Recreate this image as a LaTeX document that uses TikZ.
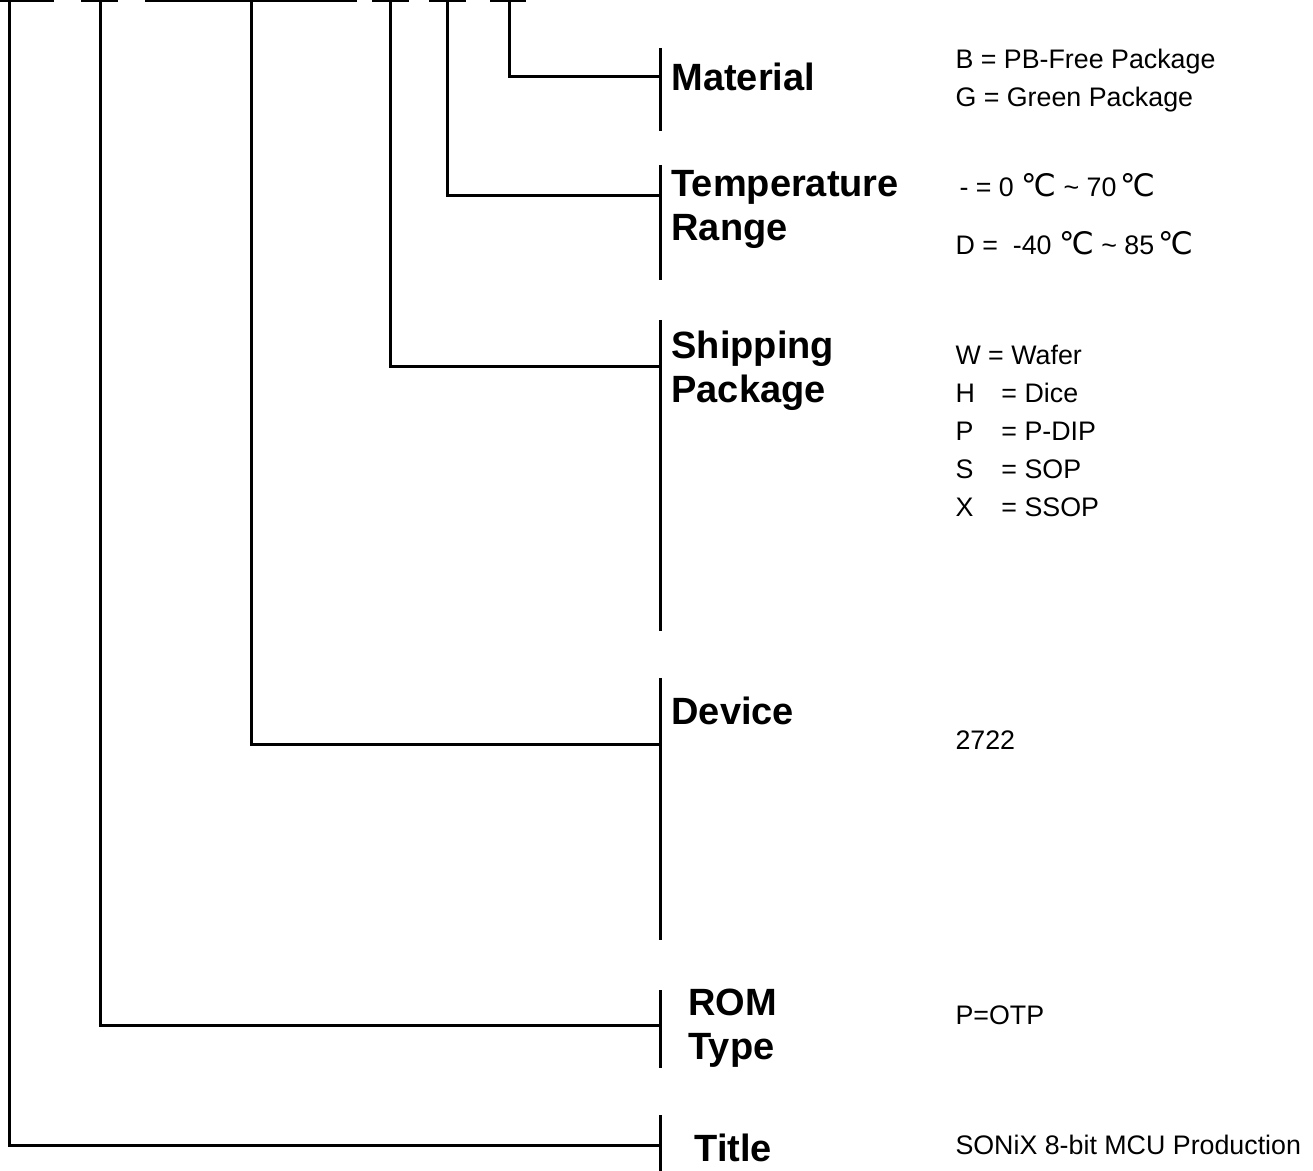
\documentclass[tikz,border=0pt]{standalone}
\usepackage{fontspec}
\setmainfont{Liberation Sans}
\newfontfamily\degfont{DejaVu Sans}
\usetikzlibrary{positioning}
\newcommand{\degC}{{\degfont\fontsize{15.5}{15.5}\selectfont\char"2103}}
\newcommand{\tld}{\textasciitilde}

\begin{document}
\begin{tikzpicture}[x=0.5pt, y=-0.5pt, line width=1.5pt,
  field/.style={font=\bfseries\fontsize{19}{22}\selectfont, anchor=west, inner sep=0pt, align=left},
  code/.style={font=\fontsize{13.4}{15}\selectfont, anchor=west, inner sep=0pt}]
  \useasboundingbox (0,0) rectangle (1313,1171);
  % Part number fields along the top
  \draw (0,1) -- (54,1);
  \draw (81,1) -- (118,1);
  \draw (145,1) -- (357,1);
  \draw (372,1) -- (409,1);
  \draw (429,1) -- (466,1);
  \draw (490,1) -- (526,1);
  \coordinate (tTitle) at (9,1);
  \coordinate (tRom) at (100,1);
  \coordinate (tDev) at (251,1);
  \coordinate (tShip) at (390,1);
  \coordinate (tTemp) at (447,1);
  \coordinate (tMat) at (509,1);
  % Brackets
  \draw (660,48) -- (660,131);
  \draw (660,165) -- (660,280);
  \draw (660,320) -- (660,631);
  \draw (660,678) -- (660,940);
  \draw (660,990) -- (660,1068);
  \draw (660,1115) -- (660,1171);
  \coordinate (bMat) at (660,77);
  \coordinate (bTemp) at (660,196);
  \coordinate (bShip) at (660,367);
  \coordinate (bDev) at (660,744);
  \coordinate (bRom) at (660,1025);
  \coordinate (bTitle) at (660,1145);
  % Leads
  \draw (tMat) |- (bMat);
  \draw (tTemp) |- (bTemp);
  \draw (tShip) |- (bShip);
  \draw (tDev) |- (bDev);
  \draw (tRom) |- (bRom);
  \draw (tTitle) |- (bTitle);
  % Field names
  \node[field] (mat) at (670,77) {Material};
  \node[field] (temp) at (670,209) {Temperature\\Range};
  \node[field] (ship) at (670,371) {Shipping\\Package};
  \node[field] (dev) at (670,711) {Device};
  \node[field] (rom) at (687,1028) {ROM\\Type};
  \node[field] (title) at (693,1148) {Title};
  % Codes
  \node[code] (matB) at (954,62) {B = PB-Free Package};
  \node[code] (matG) at (954,100) {G = Green Package};
  \node[code] (temp0) at (958,185) {- = 0 \degC{} \tld{} 70\,\degC};
  \node[code] (tempD) at (954,243) {D = \ -40 \degC{} \tld{} 85\,\degC};
  \node[code] (shipW) at (954,355) {W = Wafer};
  \node[code] (shipH) at (954,393) {\makebox[23pt][l]{H}= Dice};
  \node[code] (shipP) at (954,431) {\makebox[23pt][l]{P}= P-DIP};
  \node[code] (shipS) at (954,469) {\makebox[23pt][l]{S}= SOP};
  \node[code] (shipX) at (954,507) {\makebox[23pt][l]{X}= SSOP};
  \node[code] (devNo) at (954,740) {2722};
  \node[code] (romP) at (954,1015) {P=OTP};
  \node[code] (titleS) at (954,1145) {SONiX 8-bit MCU Production};
\end{tikzpicture}
\end{document}
